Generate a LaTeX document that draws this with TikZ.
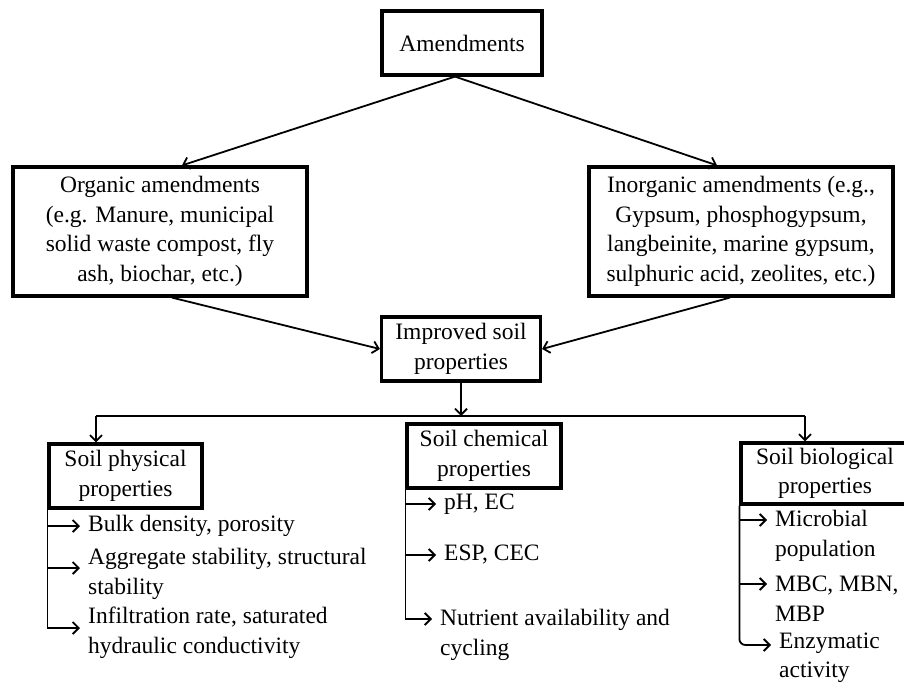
\documentclass[tikz,border=0pt]{standalone}
\usepackage{fontspec}
\setmainfont{Liberation Serif}
\usetikzlibrary{arrows.meta}

\begin{document}
\begin{tikzpicture}[
		x={(1pt,0pt)},
		y={(0pt,-1pt)},
		every node/.style={font=\fontsize{23.5}{29.5}\selectfont},
		box/.style={draw, line width=3.2pt, align=center, inner sep=0pt},
		item/.style={anchor=west, align=left, inner sep=0pt},
		link/.style={line width=1.8pt},
		arr/.style={line width=1.8pt, -{Straight Barb[length=6pt,width=12pt,line width=1.8pt]}},
	]
		\useasboundingbox (0,0) rectangle (904,684);
		
		% top part
		\node[box, minimum width=160pt, minimum height=64pt] (amend) at (462,43) {Amendments};
		\node[box, minimum width=294pt, minimum height=129pt] (organic) at (160,231.5) {Organic amendments\\(e.g. Manure, municipal\\solid waste compost, fly\\ash, biochar, etc.)};
		\node[box, minimum width=304pt, minimum height=129pt] (inorganic) at (741,231.5) {Inorganic amendments (e.g.,\\Gypsum, phosphogypsum,\\langbeinite, marine gypsum,\\sulphuric acid, zeolites, etc.)};
		\node[box, minimum width=159pt, minimum height=64pt] (improved) at (461,349) {Improved soil\\properties};
		
		\draw[arr] ([xshift=-7pt]amend.south) -- ([xshift=22pt]organic.north);
		\draw[arr] ([xshift=-7pt]amend.south) -- ([xshift=-24pt]inorganic.north);
		\draw[arr] ([xshift=12pt]organic.south) -- (improved.west);
		\draw[arr] ([xshift=-11pt]inorganic.south) -- (improved.east);
		
		% three groups of properties
		\node[box, minimum width=153pt, minimum height=64pt] (physical) at (125.5,476) {Soil physical\\properties};
		\node[box, minimum width=154pt, minimum height=64pt] (chemical) at (484,456) {Soil chemical\\properties};
		\node[box, minimum width=168pt, minimum height=61pt] (biological) at (825,473.5) {Soil biological\\properties};
		
		\coordinate (hub) at (461,416);
		\coordinate (lend) at (96,416);
		\coordinate (rend) at (805,416);
		\draw[arr] (improved.south) -- (hub);
		\draw[link] (lend) -- (rend);
		\draw[arr] (lend) -- (lend |- physical.north);
		\draw[arr] (rend) -- (rend |- biological.north);
		
		% items
		\foreach \nm/\xx/\yy/\dy/\txt in {bulk/88/526/0pt/{Bulk density, porosity}, aggr/88/574/6pt/{Aggregate stability, structural\\stability}, infil/88/633/5pt/{Infiltration rate, saturated\\hydraulic conductivity}, phec/444/504/0pt/{pH, EC}, espc/444/555/0pt/{ESP, CEC}, nutr/440/635/16pt/{Nutrient availability and\\cycling}, micr/775/536/16pt/{Microbial\\population}, mbcn/775/599/15pt/{MBC, MBN,\\MBP}, enzy/779/658/13pt/{Enzymatic\\activity}}{
			\node[item] (\nm) at (\xx,\yy) {\txt};
			\coordinate (\nm-in) at ([xshift=-8pt,yshift=\dy]\nm.west);
		}
		
		\draw[arr] (physical.south west) |- (infil-in);
		\foreach \nm in {bulk,aggr}{
			\draw[arr] (physical.south west |- \nm-in) -- (\nm-in);
		}
		\draw[arr] (chemical.south west) |- (nutr-in);
		\foreach \nm in {phec,espc}{
			\draw[arr] (chemical.south west |- \nm-in) -- (\nm-in);
		}
		\draw[arr, rounded corners=6pt] (biological.south west) |- (enzy-in);
		\foreach \nm in {micr,mbcn}{
			\draw[arr] (biological.south west |- \nm-in) -- (\nm-in);
		}
	\end{tikzpicture}
\end{document}
